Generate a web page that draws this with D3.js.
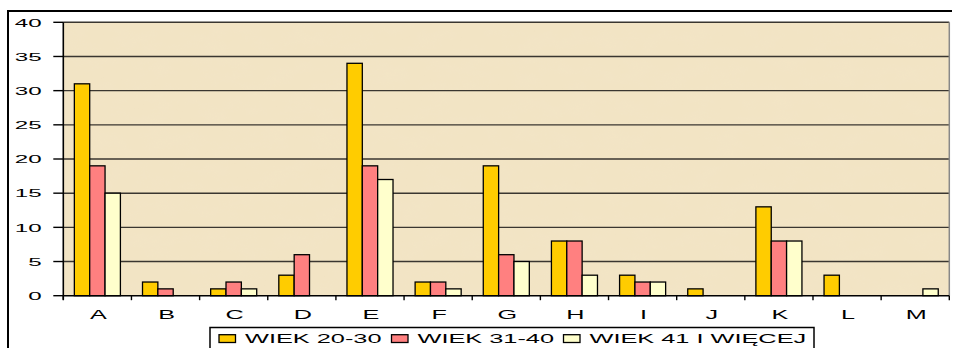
<!DOCTYPE html>
<html>
<head>
<meta charset="utf-8">
<script src="https://cdn.jsdelivr.net/npm/d3@7"></script>
<style>
  html, body { margin: 0; padding: 0; background: #fff; }
  svg { display: block; }
  text { font-family: "Liberation Sans", Arial, sans-serif; fill: #000; }
</style>
</head>
<body>
<svg id="chart" width="956" height="348"></svg>
<script>
// Categories and series
const categories = ["A","B","C","D","E","F","G","H","I","J","K","L","M"];
const seriesNames = ["WIEK 20-30", "WIEK 31-40", "WIEK 41 I WIĘCEJ"];
const age20to30 = [31, 2, 1, 3, 34, 2, 19, 8, 3, 1, 13, 3, 0];
const age31to40 = [19, 1, 2, 6, 19, 2, 6, 8, 2, 0, 8, 0, 0];
const age41plus = [15, 0, 1, 0, 17, 1, 5, 3, 2, 0, 8, 0, 1];
const yTicks = [0, 5, 10, 15, 20, 25, 30, 35, 40];
const seriesColors = ["#FFCC00", "#FF8080", "#FFFFCC"];

const seriesValues = [age20to30, age31to40, age41plus];

const svg = d3.select("#chart");
const plot = { left: 63.3, right: 949.3, top: 22.3, bottom: 295.7 };

// Parchment-like texture for the plot area
const defs = svg.append("defs");
const filt = defs.append("filter").attr("id", "parchment")
  .attr("x", 0).attr("y", 0).attr("width", 1).attr("height", 1);
filt.append("feTurbulence").attr("type", "fractalNoise")
  .attr("baseFrequency", "0.035 0.06").attr("numOctaves", 3).attr("seed", 7)
  .attr("result", "noise");
filt.append("feColorMatrix").attr("in", "noise").attr("type", "matrix")
  .attr("values", "0 0 0 0 0.90  0 0 0 0 0.79  0 0 0 0 0.58  0.55 0 0 0 -0.18")
  .attr("result", "tint");
filt.append("feComposite").attr("in", "tint").attr("in2", "SourceGraphic").attr("operator", "in");

// Outer chart frame
svg.append("path")
  .attr("d", "M8,348 L8,11 L952,11")
  .attr("fill", "none").attr("stroke", "#000").attr("stroke-width", 2);

const x0 = d3.scaleBand().domain(categories).range([plot.left, plot.right]).padding(0);
const x1 = d3.scaleBand().domain(d3.range(seriesNames.length))
  .range([0, x0.bandwidth()]).paddingInner(0).paddingOuter(0.72);
const y = d3.scaleLinear().domain([0, 40]).range([plot.bottom, plot.top]);

// Plot background
svg.append("rect")
  .attr("x", plot.left).attr("y", plot.top)
  .attr("width", plot.right - plot.left).attr("height", plot.bottom - plot.top)
  .attr("fill", "#F2E4C4");
svg.append("rect")
  .attr("x", plot.left).attr("y", plot.top)
  .attr("width", plot.right - plot.left).attr("height", plot.bottom - plot.top)
  .attr("fill", "#fff").attr("filter", "url(#parchment)");

// Horizontal gridlines
svg.append("g").selectAll("line")
  .data(yTicks.filter(d => d > 0))
  .join("line")
  .attr("x1", plot.left).attr("x2", plot.right)
  .attr("y1", d => y(d)).attr("y2", d => y(d))
  .attr("stroke", "#3a3630").attr("stroke-width", 1.4);

// Right plot edge
svg.append("line")
  .attr("x1", plot.right).attr("x2", plot.right)
  .attr("y1", plot.top).attr("y2", plot.bottom)
  .attr("stroke", "#888").attr("stroke-width", 1.5);

// Bars
const groups = svg.append("g").selectAll("g")
  .data(categories)
  .join("g")
  .attr("transform", d => `translate(${x0(d)},0)`);

groups.selectAll("rect")
  .data((c, i) => seriesValues.map((vals, s) => ({ s, v: vals[i] })).filter(d => d.v > 0))
  .join("rect")
  .attr("x", d => x1(d.s))
  .attr("width", x1.bandwidth())
  .attr("y", d => y(d.v))
  .attr("height", d => y(0) - y(d.v))
  .attr("fill", d => seriesColors[d.s])
  .attr("stroke", "#000").attr("stroke-width", 1.3);

// Y axis
const yAxis = svg.append("g");
yAxis.append("line")
  .attr("x1", plot.left).attr("x2", plot.left)
  .attr("y1", plot.top).attr("y2", plot.bottom + 4)
  .attr("stroke", "#000").attr("stroke-width", 1.6);
yAxis.selectAll("line.tick").data(yTicks).join("line")
  .attr("class", "tick")
  .attr("x1", plot.left - 10).attr("x2", plot.left)
  .attr("y1", d => y(d)).attr("y2", d => y(d))
  .attr("stroke", "#000").attr("stroke-width", 1.4);
yAxis.selectAll("text").data(yTicks).join("text")
  .attr("transform", d => `translate(41.7,${y(d) + 4.2}) scale(2.3,1)`)
  .attr("text-anchor", "end")
  .attr("font-size", 10.5)
  .text(d => d);

// X axis
const xAxis = svg.append("g");
xAxis.append("line")
  .attr("x1", plot.left).attr("x2", plot.right)
  .attr("y1", plot.bottom).attr("y2", plot.bottom)
  .attr("stroke", "#000").attr("stroke-width", 1.6);
xAxis.selectAll("line.tick").data(categories.concat(["_end"])).join("line")
  .attr("class", "tick")
  .attr("x1", (d, i) => plot.left + i * x0.step())
  .attr("x2", (d, i) => plot.left + i * x0.step())
  .attr("y1", plot.bottom).attr("y2", plot.bottom + 4.5)
  .attr("stroke", "#000").attr("stroke-width", 1.4);
xAxis.selectAll("text").data(categories).join("text")
  .attr("transform", d => `translate(${x0(d) + x0.bandwidth() / 2 + 1},319.3) scale(2.1,1)`)
  .attr("text-anchor", "middle")
  .attr("font-size", 12)
  .text(d => d);

// Legend
const legend = svg.append("g");
legend.append("rect")
  .attr("x", 210).attr("y", 327.5).attr("width", 604).attr("height", 30)
  .attr("fill", "#fff").attr("stroke", "#000").attr("stroke-width", 1.5);
const legendX = [219, 391.5, 563.5];
const legendItems = legend.selectAll("g").data(seriesNames).join("g")
  .attr("transform", (d, i) => `translate(${legendX[i]},0)`);
legendItems.append("rect")
  .attr("x", 0).attr("y", 334.7).attr("width", 16.5).attr("height", 7.8)
  .attr("fill", (d, i) => seriesColors[i])
  .attr("stroke", "#000").attr("stroke-width", 1.3);
legendItems.append("text")
  .attr("transform", "translate(26,343.2) scale(1.95,1)")
  .attr("font-size", 13)
  .text(d => d);
</script>
</body>
</html>
